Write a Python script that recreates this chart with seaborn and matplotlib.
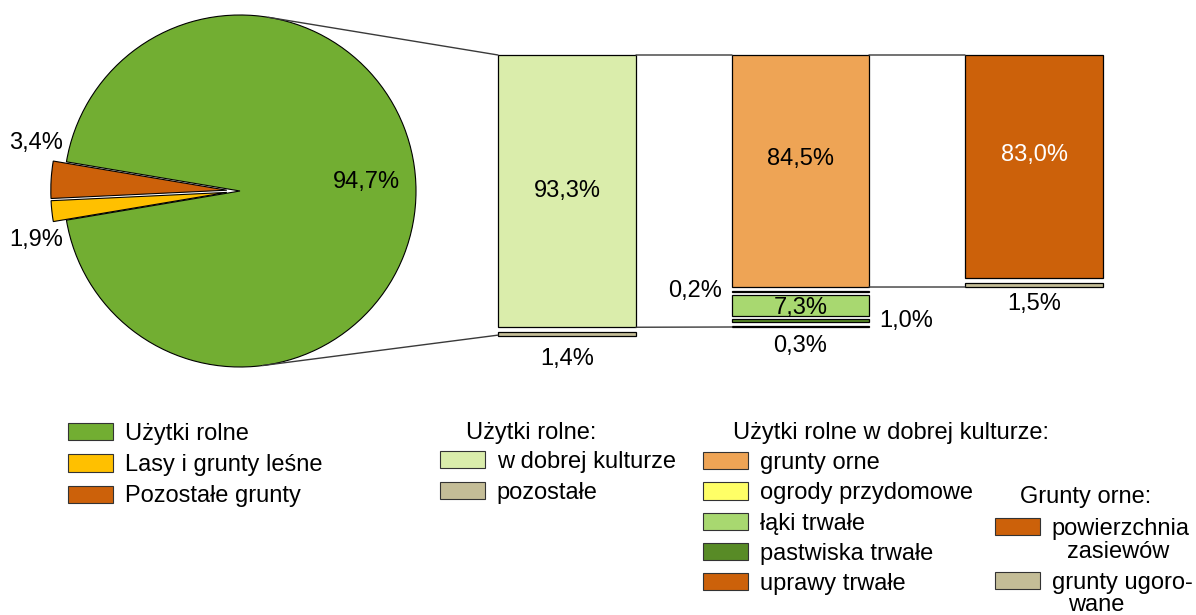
import numpy as np
import matplotlib
matplotlib.use("Agg")
import matplotlib.pyplot as plt
import seaborn as sns
from matplotlib.patches import Patch, ConnectionPatch

# ---------------- data ----------------
pie_labels = ["Użytki rolne", "Lasy i grunty leśne", "Pozostałe grunty"]
pie_values = [94.7, 1.9, 3.4]

bar1_title = "Użytki rolne:"
bar1_labels = ["w dobrej kulturze", "pozostałe"]
bar1_values = [93.3, 1.4]

bar2_title = "Użytki rolne w dobrej kulturze:"
bar2_labels = ["grunty orne", "ogrody przydomowe", "łąki trwałe",
               "pastwiska trwałe", "uprawy trwałe"]
bar2_values = [84.5, 0.2, 7.3, 1.0, 0.3]

bar3_title = "Grunty orne:"
bar3_labels = ["powierzchnia\nzasiewów", "grunty ugoro-\nwane"]
bar3_values = [83.0, 1.5]

colors = {
    "Użytki rolne": "#72AE32",
    "Lasy i grunty leśne": "#FFC000",
    "Pozostałe grunty": "#CC610A",
    "w dobrej kulturze": "#DAEDAB",
    "pozostałe": "#C4BD97",
    "grunty orne": "#EEA455",
    "ogrody przydomowe": "#FFFF66",
    "łąki trwałe": "#A8D870",
    "pastwiska trwałe": "#588B26",
    "uprawy trwałe": "#CC610A",
    "powierzchnia\nzasiewów": "#CC610A",
    "grunty ugoro-\nwane": "#C4BD97",
}


def fmt(v):
    return f"{v:.1f}".replace(".", ",") + "%"


# ---------------- style ----------------
sns.set_theme(style="white")
plt.rcParams["font.family"] = ["Liberation Sans", "DejaVu Sans"]
plt.rcParams["text.color"] = "black"
FS = 17
W, H = 1196, 615
fig = plt.figure(figsize=(W / 100, H / 100), dpi=100)
fig.patch.set_facecolor("white")


def fr(x0, y0, x1, y1):
    """pixel box -> figure fraction [left, bottom, width, height]"""
    return [x0 / W, 1 - y1 / H, (x1 - x0) / W, (y1 - y0) / H]


LINE = "#3a3a3a"

# ---------------- pie ----------------
R = 176
cx, cy = 240, 191
lim = 1.2
ax_pie = fig.add_axes(fr(cx - lim * R, cy - lim * R, cx + lim * R, cy + lim * R))
order = ["Pozostałe grunty", "Lasy i grunty leśne", "Użytki rolne"]
vals = [pie_values[pie_labels.index(k)] for k in order]
small = sum(vals[:2])
start = 180 - small / 100 * 360 / 2
ax_pie.pie(vals, colors=[colors[k] for k in order], startangle=start,
           explode=[0.075, 0.075, 0.0], counterclock=True,
           wedgeprops=dict(edgecolor="black", linewidth=0.8))
ax_pie.set_xlim(-lim, lim)
ax_pie.set_ylim(-lim, lim)
ax_pie.set_aspect("equal")
ax_pie.axis("off")
ax_pie.text(0.72, 0.05, fmt(pie_values[0]), fontsize=FS, ha="center", va="center")
ax_pie.text(-1.16, 0.27, fmt(pie_values[2]), fontsize=FS, ha="center", va="center")
ax_pie.text(-1.16, -0.28, fmt(pie_values[1]), fontsize=FS, ha="center", va="center")


# ---------------- stacked bars ----------------
def draw_stack(ax, labels, values, gap):
    bottoms = []
    pos = 0.0
    for v in reversed(values):
        bottoms.append(pos)
        pos += v + gap
    bottoms = bottoms[::-1]
    total = pos - gap
    for lab, v, b in zip(labels, values, bottoms):
        sns.barplot(x=["s"], y=[v], bottom=b, color=colors[lab], saturation=1,
                    edgecolor="black", linewidth=0.9, width=1.0, ax=ax)
    for p in ax.patches:
        p.set_clip_on(False)
    ax.set_xlim(-0.5, 0.5)
    ax.set_ylim(0, total)
    ax.axis("off")
    return bottoms, total


ax1 = fig.add_axes(fr(498, 55, 636, 336))
b1, t1 = draw_stack(ax1, bar1_labels, bar1_values, 1.6)
ax2 = fig.add_axes(fr(732, 55, 869, 327))
b2, t2 = draw_stack(ax2, bar2_labels, bar2_values, 1.44)
ax3 = fig.add_axes(fr(965, 55, 1103, 287))
b3, t3 = draw_stack(ax3, bar3_labels, bar3_values, 2.0)


def lab(ax, text, xy, off=(0, 0), ha="center", color="black"):
    ax.annotate(text, xy=xy, xytext=off, textcoords="offset points",
                ha=ha, va="center", fontsize=FS, color=color,
                annotation_clip=False)


# bar 1
lab(ax1, fmt(bar1_values[0]), (0, b1[0] + bar1_values[0] / 2))
lab(ax1, fmt(bar1_values[1]), (0, 0), (0, -16.5))
# bar 2
lab(ax2, fmt(bar2_values[0]), (0, b2[0] + bar2_values[0] / 2), (0, 9))
lab(ax2, fmt(bar2_values[1]), (-0.5, b2[1] + bar2_values[1] / 2), (-7.5, 0), ha="right")
lab(ax2, fmt(bar2_values[2]), (0, b2[2] + bar2_values[2] / 2), (0, -1.5))
lab(ax2, fmt(bar2_values[3]), (0.5, b2[3] + bar2_values[3] / 2), (7.5, 0), ha="left")
lab(ax2, fmt(bar2_values[4]), (0, 0), (0, -13.5))
# bar 3
lab(ax3, fmt(bar3_values[0]), (0, b3[0] + bar3_values[0] / 2), (0, 8.5), color="white")
lab(ax3, fmt(bar3_values[1]), (0, 0), (0, -12))

# ---------------- connector lines ----------------
def connect(xyA, axA, xyB, axB):
    con = ConnectionPatch(xyA=xyA, coordsA=axA.transData, xyB=xyB,
                          coordsB=axB.transData, color=LINE, linewidth=1.0)
    fig.add_artist(con)


connect((0.5, t1), ax1, (-0.5, t2), ax2)
connect((0.5, b1[0]), ax1, (-0.5, 0), ax2)
connect((0.5, t2), ax2, (-0.5, t3), ax3)
connect((0.5, b2[0]), ax2, (-0.5, 0), ax3)

# tangents from the pie to the first bar
fig.canvas.draw()
inv = ax_pie.transData.inverted()
for yb, sign in [(t1, 1), (0.3, -1)]:
    disp = ax1.transData.transform((-0.5, yb))
    px, py = inv.transform(disp)
    d = np.hypot(px, py)
    phi = np.arctan2(py, px)
    ang = phi + sign * np.arccos(1.0 / d)
    connect((np.cos(ang), np.sin(ang)), ax_pie, (-0.5, yb), ax1)

# ---------------- legends ----------------
def add_legend(labels, x_px, top_px, spacing):
    handles = [Patch(facecolor=colors[l], edgecolor="#333333", linewidth=0.8,
                     label=l.split("\n")[0]) for l in labels]
    fig.legend(handles=handles, loc="upper left",
               bbox_to_anchor=(x_px / W, 1 - top_px / H), frameon=False,
               borderpad=0, borderaxespad=0, handlelength=1.9,
               handleheight=0.75, handletextpad=0.5, labelspacing=spacing,
               fontsize=FS, labelcolor="black")


add_legend(pie_labels, 68, 423, 0.39)
fig.text(466 / W, 1 - 433 / H, bar1_title, fontsize=FS, ha="left", va="center")
add_legend(bar1_labels, 440, 451, 0.38)
fig.text(733 / W, 1 - 433 / H, bar2_title, fontsize=FS, ha="left", va="center")
add_legend(bar2_labels, 703, 452, 0.35)
fig.text(1020 / W, 1 - 497 / H, bar3_title, fontsize=FS, ha="left", va="center")
add_legend(bar3_labels, 995, 518, 1.34)
fig.text(1118 / W, 1 - 552 / H, bar3_labels[0].split("\n")[1], fontsize=FS,
         ha="center", va="center")
fig.text(1096 / W, 1 - 605 / H, bar3_labels[1].split("\n")[1], fontsize=FS,
         ha="center", va="center")

fig.savefig("out.png", dpi=100, facecolor="white")
